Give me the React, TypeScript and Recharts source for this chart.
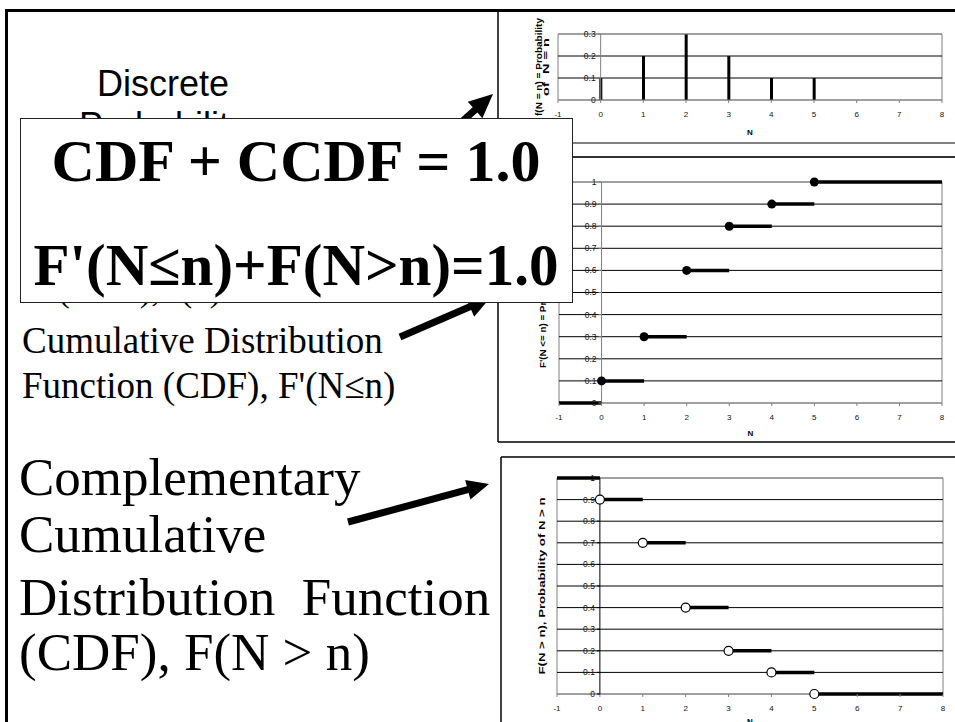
import React from 'react';
import {
  ComposedChart,
  Bar,
  Line,
  Scatter,
  XAxis,
  YAxis,
  ReferenceLine,
  ReferenceArea,
  ReferenceDot,
  Label,
} from 'recharts';

// ---------- data ----------
const nValues = [0, 1, 2, 3, 4, 5];
const pmfValues = [0.1, 0.2, 0.3, 0.2, 0.1, 0.1];
const cdfValues = [0.1, 0.3, 0.6, 0.8, 0.9, 1.0];
const ccdfValues = [0.9, 0.7, 0.4, 0.2, 0.1, 0.0];
const cdfBelowZero = 0;
const ccdfBelowZero = 1;
const xTicks = [-1, 0, 1, 2, 3, 4, 5, 6, 7, 8];
const pmfTicks = [0, 0.1, 0.2, 0.3];
const cumTicks = [0, 0.1, 0.2, 0.3, 0.4, 0.5, 0.6, 0.7, 0.8, 0.9, 1];

const pmfLabel = ['f(N = n) = Probability', 'of  N = n'];
const cdfLabel = ["F'(N <= n) = Probability of N <= n"];
const ccdfLabel = ['F(N > n), Probability of N > n'];

const ARIAL = '"Liberation Sans", Arial, sans-serif';
const TIMES = '"Liberation Serif", "Times New Roman", serif';
const GRAY = '#808080';

const pmfData = nValues.map((n, i) => ({ x: n, y: pmfValues[i] }));
const cdfPoints = nValues.map((n, i) => ({ x: n, y: cdfValues[i] }));
const ccdfPoints = nValues.map((n, i) => ({ x: n, y: ccdfValues[i] }));

function stepData(values: number[], below: number) {
  const xMin = xTicks[0];
  const xMax = xTicks[xTicks.length - 1];
  const pts: { x: number; y: number | null }[] = [
    { x: xMin, y: below },
    { x: nValues[0], y: below },
    { x: nValues[0], y: null },
  ];
  nValues.forEach((n, i) => {
    const end = i < nValues.length - 1 ? nValues[i + 1] : xMax;
    pts.push({ x: n, y: values[i] }, { x: end, y: values[i] }, { x: end, y: null });
  });
  return pts;
}
const cdfSteps = stepData(cdfValues, cdfBelowZero);
const ccdfSteps = stepData(ccdfValues, ccdfBelowZero);

// ---------- helpers ----------
const tickStyle = { fontSize: 8, fill: '#111', fontFamily: ARIAL };

function yLabelContent(lines: string[], lengths: number[], fontSize: number, gap: number) {
  return (props: any) => {
    const vb = props.viewBox || { x: 0, y: 0, width: 0, height: 0 };
    const cx = vb.x + vb.width / 2;
    const cy = vb.y + vb.height / 2;
    return (
      <g>
        {lines.map((line, i) => {
          const x = cx + (i - (lines.length - 1) / 2) * gap;
          return (
            <text
              key={i}
              x={0}
              y={0}
              transform={`translate(${x},${cy}) rotate(-90)`}
              textAnchor="middle"
              dy="0.35em"
              fontSize={fontSize}
              fontWeight="bold"
              fontFamily={ARIAL}
              fill="#000"
              textLength={lengths[i]}
              lengthAdjust="spacingAndGlyphs"
              style={{ whiteSpace: 'pre' }}
            >
              {line}
            </text>
          );
        })}
      </g>
    );
  };
}

const xLabelContent = (props: any) => {
  const vb = props.viewBox || { x: 0, y: 0, width: 0, height: 0 };
  return (
    <text
      x={vb.x + vb.width / 2}
      y={vb.y + vb.height}
      dy="0.35em"
      textAnchor="middle"
      fontSize={8}
      fontWeight="bold"
      fontFamily={ARIAL}
      fill="#000"
    >
      N
    </text>
  );
};

function yTickShape(value: number, color: string) {
  return (p: any) => (
    <g>
      <line x1={p.cx - 3} y1={p.cy} x2={p.cx} y2={p.cy} stroke={color} strokeWidth={1} />
      <text
        x={p.cx - 5}
        y={p.cy}
        dy="0.35em"
        textAnchor="end"
        fontSize={8.5}
        fontFamily={ARIAL}
        fill="#111"
      >
        {value}
      </text>
    </g>
  );
}

function arrowPoints(x1: number, y1: number, x2: number, y2: number, shaft: number, headL: number, headW: number) {
  const dx = x2 - x1;
  const dy = y2 - y1;
  const L = Math.hypot(dx, dy);
  const ux = dx / L;
  const uy = dy / L;
  const px = -uy;
  const py = ux;
  const bx = x2 - ux * headL;
  const by = y2 - uy * headL;
  const s = shaft / 2;
  const h = headW / 2;
  const pts = [
    [x1 + px * s, y1 + py * s],
    [bx + px * s, by + py * s],
    [bx + px * h, by + py * h],
    [x2, y2],
    [bx - px * h, by - py * h],
    [bx - px * s, by - py * s],
    [x1 - px * s, y1 - py * s],
  ];
  return pts.map((p) => p.join(',')).join(' ');
}

const openDot = (p: any) => (
  <circle cx={p.cx} cy={p.cy} r={4.5} fill="#fff" stroke="#000" strokeWidth={1.2} />
);
const filledDot = (p: any) => <circle cx={p.cx} cy={p.cy} r={4.5} fill="#000" />;

function gridLines(ticks: number[]) {
  const top = ticks[ticks.length - 1];
  return ticks.map((t) => (
    <ReferenceLine
      key={`g${t}`}
      y={t}
      stroke={t === 0 || t === top ? GRAY : '#000'}
      strokeWidth={1}
    />
  ));
}

// ---------- charts ----------
function PmfChart() {
  const top = pmfTicks[pmfTicks.length - 1];
  return (
    <ComposedChart width={457} height={133} data={pmfData} margin={{ top: 24, right: 13, left: 28, bottom: 11 }}>
      <XAxis
        type="number"
        dataKey="x"
        domain={[xTicks[0], xTicks[xTicks.length - 1]]}
        ticks={xTicks}
        interval={0}
        tickSize={3}
        tickMargin={8}
        stroke={GRAY}
        axisLine={false}
        tick={tickStyle}
        height={32}
      >
        <Label content={xLabelContent} />
      </XAxis>
      <YAxis
        type="number"
        dataKey="y"
        domain={[0, top]}
        ticks={pmfTicks}
        width={32}
        tick={false}
        axisLine={false}
        tickLine={false}
      >
        <Label content={yLabelContent(pmfLabel, [98, 58], 9.5, 7)} />
      </YAxis>
      {gridLines(pmfTicks)}
      <ReferenceArea x1={xTicks[0]} x2={xTicks[xTicks.length - 1]} y1={0} y2={top} fill="none" fillOpacity={0} stroke={GRAY} />
      <ReferenceLine x={0} stroke={GRAY} />
      {pmfTicks.map((t) => (
        <ReferenceDot key={t} x={0} y={t} r={0} shape={yTickShape(t, GRAY)} />
      ))}
      <Bar dataKey="y" barSize={3} fill="#000" isAnimationActive={false} />
    </ComposedChart>
  );
}

function CumChart(props: {
  width: number;
  height: number;
  margin: any;
  yWidth: number;
  xHeight: number;
  steps: any[];
  points: any[];
  dot: any;
  label: string[];
  labelLen: number[];
  axisColor: string;
}) {
  const { width, height, margin, yWidth, xHeight, steps, points, dot, label, labelLen, axisColor } = props;
  return (
    <ComposedChart width={width} height={height} margin={margin}>
      <XAxis
        type="number"
        dataKey="x"
        domain={[xTicks[0], xTicks[xTicks.length - 1]]}
        ticks={xTicks}
        interval={0}
        tickSize={3}
        tickMargin={8}
        stroke={GRAY}
        axisLine={false}
        tick={tickStyle}
        height={xHeight}
      >
        <Label content={xLabelContent} />
      </XAxis>
      <YAxis
        type="number"
        dataKey="y"
        domain={[0, 1]}
        ticks={cumTicks}
        width={yWidth}
        tick={false}
        axisLine={false}
        tickLine={false}
      >
        <Label content={yLabelContent(label, labelLen, 9.5, 7)} />
      </YAxis>
      {gridLines(cumTicks)}
      <ReferenceArea x1={xTicks[0]} x2={xTicks[xTicks.length - 1]} y1={0} y2={1} fill="none" fillOpacity={0} stroke={GRAY} />
      <ReferenceLine x={0} stroke={axisColor} />
      {cumTicks.map((t) => (
        <ReferenceDot key={t} x={0} y={t} r={0} shape={yTickShape(t, axisColor)} />
      ))}
      <Line
        data={steps}
        dataKey="y"
        type="linear"
        stroke="#000"
        strokeWidth={3.5}
        dot={false}
        activeDot={false}
        connectNulls={false}
        isAnimationActive={false}
      />
      <Scatter data={points} dataKey="y" shape={dot} isAnimationActive={false} />
    </ComposedChart>
  );
}

// ---------- page ----------
export default function App() {
  return (
    <div
      style={{
        position: 'absolute',
        left: 0,
        top: 0,
        width: 955,
        height: 722,
        overflow: 'hidden',
        background: '#fff',
      }}
    >
      {/* background: frames, left texts, arrows */}
      <svg width={955} height={722} style={{ position: 'absolute', left: 0, top: 0 }}>
        <line x1={5} y1={10.5} x2={955} y2={10.5} stroke="#000" strokeWidth={3} />
        <line x1={6.5} y1={9} x2={6.5} y2={722} stroke="#000" strokeWidth={3} />

        <line x1={498} y1={10} x2={498} y2={143} stroke="#000" strokeWidth={1.5} />
        <line x1={498} y1={143} x2={955} y2={143} stroke="#000" strokeWidth={1} />
        <line x1={498} y1={157} x2={955} y2={157} stroke="#333" strokeWidth={2} />
        <line x1={498} y1={157} x2={498} y2={442} stroke="#000" strokeWidth={1.5} />
        <line x1={498} y1={442} x2={955} y2={442} stroke="#000" strokeWidth={1.5} />
        <line x1={501} y1={457} x2={955} y2={457} stroke="#000" strokeWidth={1.5} />
        <line x1={501} y1={457} x2={501} y2={722} stroke="#000" strokeWidth={1.5} />

        <text x={163} y={96} textAnchor="middle" fontFamily={ARIAL} fontSize={36} fill="#000">
          Discrete
        </text>
        <text x={163} y={138} textAnchor="middle" fontFamily={ARIAL} fontSize={36} fill="#000">
          Probability
        </text>
        <text x={58} y={301} fontFamily={TIMES} fontSize={35} fill="#000">
          (PMF), f(n)
        </text>

        <text x={22} y={353} fontFamily={TIMES} fontSize={37} fill="#000">
          Cumulative Distribution
        </text>
        <text x={22} y={398} fontFamily={TIMES} fontSize={37} fill="#000">
          Function (CDF), F'(N≤n)
        </text>

        <text x={19} y={495} fontFamily={TIMES} fontSize={53} fill="#000">
          Complementary
        </text>
        <text x={19} y={552} fontFamily={TIMES} fontSize={53} fill="#000">
          Cumulative
        </text>
        <text x={19} y={615} fontFamily={TIMES} fontSize={53} fill="#000" style={{ whiteSpace: 'pre' }}>
          {'Distribution  Function'}
        </text>
        <text x={19} y={670} fontFamily={TIMES} fontSize={53} fill="#000">
          (CDF), F(N &gt; n)
        </text>

        <polygon points={arrowPoints(430, 150, 493, 94, 7, 24, 22)} fill="#000" />
        <polygon points={arrowPoints(400, 337, 490, 298, 7, 22, 22)} fill="#000" />
        <polygon points={arrowPoints(348, 522, 489, 484, 7, 22, 20)} fill="#000" />
      </svg>

      <div style={{ position: 'absolute', left: 498, top: 10 }}>
        <PmfChart />
      </div>

      <div style={{ position: 'absolute', left: 498, top: 157 }}>
        <CumChart
          width={457}
          height={285}
          margin={{ top: 25, right: 13, left: 29, bottom: 9 }}
          yWidth={32}
          xHeight={30}
          steps={cdfSteps}
          points={cdfPoints}
          dot={filledDot}
          label={cdfLabel}
          labelLen={[151]}
          axisColor={GRAY}
        />
      </div>

      <div style={{ position: 'absolute', left: 501, top: 457 }}>
        <CumChart
          width={454}
          height={265}
          margin={{ top: 21, right: 12, left: 26, bottom: 1 }}
          yWidth={30}
          xHeight={27}
          steps={ccdfSteps}
          points={ccdfPoints}
          dot={openDot}
          label={ccdfLabel}
          labelLen={[177]}
          axisColor="#000"
        />
      </div>

      {/* overlay box */}
      <svg width={955} height={722} style={{ position: 'absolute', left: 0, top: 0, pointerEvents: 'none' }}>
        <rect x={20.5} y={118.5} width={552} height={184} fill="#fff" stroke="#222" strokeWidth={1} />
        <text x={296} y={181} textAnchor="middle" fontFamily={TIMES} fontWeight="bold" fontSize={60} fill="#000">
          CDF + CCDF = 1.0
        </text>
        <text x={296} y={285} textAnchor="middle" fontFamily={TIMES} fontWeight="bold" fontSize={59} fill="#000">
          F'(N≤n)+F(N&gt;n)=1.0
        </text>
      </svg>
    </div>
  );
}
